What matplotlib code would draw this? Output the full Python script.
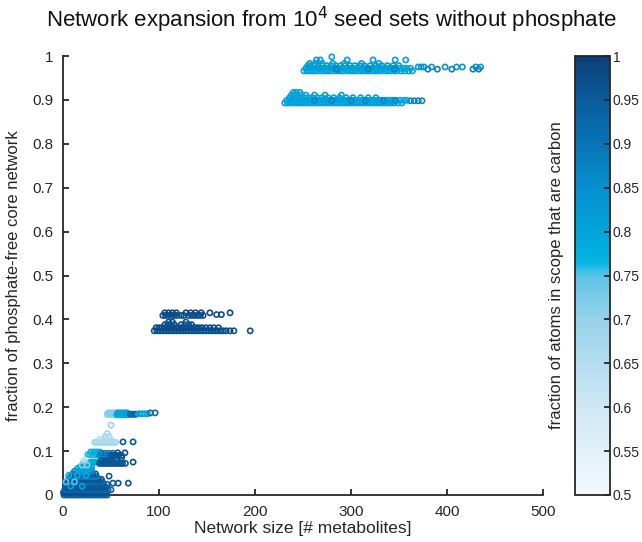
import numpy as np
import matplotlib
matplotlib.use("Agg")
import matplotlib.pyplot as plt
from matplotlib.colors import LinearSegmentedColormap, Normalize
from matplotlib.cm import ScalarMappable

plt.rcParams['font.family'] = ['Liberation Sans', 'DejaVu Sans']

# =============================================================
# Data: rows of (fraction, carbon fraction, sizes)
# =============================================================

# full network, upper strand (~0.975)
top_rows = [
    (0.966, 0.81, [251, 254, 257, 260, 263, 266, 270, 273, 276, 279, 283, 286, 289, 292, 296,
                   299, 302, 305, 309, 312, 315, 318, 322, 325, 328, 331, 335, 338, 341, 345,
                   348, 352, 356, 360, 364]),
    (0.972, 0.80, [253, 256, 259, 262, 266, 269, 272, 275, 278, 282, 285, 288, 291, 295, 298,
                   301, 304, 308, 311, 314, 317, 321, 324, 327, 330, 334, 337, 340, 344, 347,
                   351, 355, 358, 362]),
    (0.978, 0.82, [255, 258, 262, 266, 270, 275, 279, 284, 289, 294, 299, 304, 309, 314, 320,
                   326, 332, 338, 344, 350]),
    (0.983, 0.81, [257, 263, 270, 281, 293, 311, 329]),
    (0.975, 0.84, [370, 373, 376, 384, 398, 410, 416, 430, 435]),
    (0.970, 0.88, [285, 318, 345, 380, 390, 405, 427, 433]),
    (0.991, 0.82, [264, 268, 296, 323, 346, 357]),
    (0.998, 0.80, [280]),
]

# full network, lower strand (~0.90)
mid_rows = [
    (0.893, 0.81, [231, 234, 237, 240, 243, 246, 249, 252, 255, 258, 261, 264, 267, 270, 273,
                   276, 279, 282, 285, 288, 291, 294, 297, 300, 303, 306, 309, 312, 315, 318,
                   321, 324, 327, 330, 333, 336, 339, 342, 345, 349, 353]),
    (0.899, 0.80, [233, 236, 239, 242, 245, 248, 251, 254, 257, 260, 263, 266, 269, 272, 275,
                   278, 281, 284, 287, 290, 293, 296, 299, 302, 305, 308, 311, 314, 317, 320,
                   323, 326, 329, 332, 335, 338, 341, 344, 347, 351, 355, 358]),
    (0.905, 0.81, [236, 239, 242, 245, 248, 252, 256, 260, 265, 270, 276, 282, 288, 295, 302,
                   310, 318, 326]),
    (0.911, 0.81, [238, 241, 244, 248, 253, 262, 273, 290]),
    (0.917, 0.80, [240, 243, 247]),
    (0.898, 0.87, [262, 280, 300, 315, 334, 346, 362, 366, 370, 374]),
]

# ~0.38 / 0.41 strands
core_rows = [
    (0.374, 0.97, [95, 98, 101, 104, 107, 110, 113, 116, 119, 122, 125, 128, 131, 134, 137,
                   140, 143, 146, 149, 152, 155, 158, 161, 164, 167, 170, 174, 178, 195]),
    (0.381, 0.98, [97, 100, 103, 106, 109, 112, 115, 118, 121, 124, 127, 130, 133, 136, 139,
                   142, 145, 149, 153, 157, 162]),
    (0.388, 0.97, [106, 109, 112, 116, 123, 127, 131, 134]),
    (0.394, 0.96, [110, 114, 128]),
    (0.409, 0.97, [104, 107, 110, 113, 116, 119, 123, 126, 131, 134, 137, 140, 143, 146]),
    (0.415, 0.98, [106, 110, 114, 118, 128, 133, 138, 144, 153, 174]),
    (0.411, 0.97, [160, 165]),
]

# ~0.185 strand and the small networks below it
small_rows = [
    (0.183, 0.70, [46, 48, 50, 52, 54]),
    (0.187, 0.72, [47, 49, 51, 53, 55]),
    (0.183, 0.78, [56, 58, 60, 62, 64, 66, 68]),
    (0.187, 0.80, [57, 59, 61, 63, 65, 67]),
    (0.184, 0.93, [70, 72, 74, 76]),
    (0.185, 0.80, [79, 82, 85, 88]),
    (0.187, 0.92, [91, 96]),
    (0.159, 0.70, [50]),
    (0.133, 0.68, [44, 48]),
    (0.140, 0.68, [46]),
    (0.120, 0.68, [33, 35, 37, 39, 41, 43, 45, 47, 49, 51, 53, 55]),
    (0.126, 0.65, [38, 42, 46, 50]),
    (0.121, 0.95, [62.5, 73]),
    (0.092, 0.76, [26, 28, 30, 32, 34, 36]),
    (0.098, 0.78, [29, 32, 35, 38]),
    (0.090, 0.85, [38, 40, 42, 44, 46, 48]),
    (0.095, 0.90, [40, 44, 48, 52]),
    (0.090, 0.96, [50, 52, 54, 56, 58, 61]),
    (0.096, 0.97, [57, 64.5]),
    (0.085, 0.97, [61]),
    (0.074, 0.70, [21, 23, 25, 27]),
    (0.079, 0.62, [22, 24]),
    (0.075, 0.78, [29, 31, 33, 35, 37]),
    (0.072, 0.96, [38, 40, 42, 44, 46, 48, 50, 52, 54, 56, 58, 60, 62, 65]),
    (0.078, 0.96, [40, 43, 46, 49, 52, 55]),
    (0.075, 0.97, [73]),
    (0.064, 0.80, [18, 21, 24, 27, 30]),
    (0.068, 0.72, [20, 25]),
]

# smallest networks near the origin
base_rows = [
    (0.000, 0.95, [1, 3.5, 6, 8.5, 11, 13.5, 16, 18.5, 21, 23.5, 26, 28.5, 31, 33.5, 36, 38.5,
                   41, 43.5, 46]),
    (0.006, 0.97, [0.5, 3, 5.5, 8, 10.5, 13, 15.5, 18, 20.5, 23, 25.5, 28, 30.5, 33, 35.5, 38,
                   40.5, 43, 45.5]),
    (0.012, 0.93, [2, 4.5, 7, 9.5, 12, 14.5, 17, 19.5, 22, 24.5, 27, 29.5, 32, 34.5, 37, 39.5,
                   42, 44.5, 47, 50]),
    (0.018, 0.96, [2.5, 5, 7.5, 10, 12.5, 15, 17.5, 20, 22.5, 25, 27.5, 30, 32.5, 35, 37.5, 40,
                   42.5, 45]),
    (0.024, 0.95, [3, 6, 9, 12, 15, 18, 21, 24, 27, 30, 33, 36, 39, 42, 46]),
    (0.030, 0.92, [5, 8, 11, 14, 17, 20, 23, 26, 29, 32, 35, 38, 41]),
    (0.036, 0.96, [6, 9, 12, 15, 18, 21, 24, 27, 30, 33, 37, 40]),
    (0.042, 0.88, [8, 11, 14, 17, 20, 23, 26, 29, 32, 35]),
    (0.048, 0.95, [10, 13, 16, 19, 22, 25, 28, 31, 34]),
    (0.054, 0.85, [12, 15, 18, 21, 24, 27, 30]),
    (0.060, 0.80, [15, 18, 22, 26, 29]),
    (0.045, 0.78, [6, 15, 24]),
    (0.020, 0.80, [8, 20]),
    (0.030, 0.75, [3, 12]),
    (0.043, 0.96, [48]),
    (0.027, 0.96, [52, 57.5, 68]),
]

# colour scale (carbon fraction -> colour)
cbar_stops = [0.5, 0.6, 0.7, 0.75, 0.765, 0.8, 0.85, 0.9, 0.95, 1.0]
cbar_colors = ['#f3f9fe', '#cfe7f4', '#97d3eb', '#5cc3e6', '#00b6e3', '#04a4db',
               '#0690cf', '#0874b6', '#0a5c9c', '#0c3f78']

x_ticks = [0, 100, 200, 300, 400, 500]
y_ticks = [0, 0.1, 0.2, 0.3, 0.4, 0.5, 0.6, 0.7, 0.8, 0.9, 1]
c_ticks = [0.5, 0.55, 0.6, 0.65, 0.7, 0.75, 0.8, 0.85, 0.9, 0.95, 1]

# =============================================================
# Plot
# =============================================================
span = cbar_stops[-1] - cbar_stops[0]
cmap = LinearSegmentedColormap.from_list(
    'carbon', [((v - cbar_stops[0]) / span, c) for v, c in zip(cbar_stops, cbar_colors)])
norm = Normalize(vmin=0.5, vmax=1.0)

xs, ys, cs = [], [], []
for rows in (base_rows, small_rows, core_rows, mid_rows, top_rows):
    for y, c, xlist in rows:
        xs.extend(xlist)
        ys.extend([y] * len(xlist))
        cs.extend([c] * len(xlist))

axis_col = '#262626'

fig = plt.figure(figsize=(6.42, 5.42), dpi=100)
ax = fig.add_axes([63 / 642, 1 - 495 / 542, 480 / 642, 439 / 542])
ax.scatter(xs, ys, s=14, facecolors='none', edgecolors=cmap(norm(np.array(cs))),
           linewidths=1.2, clip_on=False, zorder=3)

ax.set_xlim(0, 500)
ax.set_ylim(0, 1)
ax.set_xticks(x_ticks)
ax.set_yticks(y_ticks)
ax.set_yticklabels(['%g' % v for v in y_ticks])
for side in ('top', 'right'):
    ax.spines[side].set_visible(False)
for side in ('left', 'bottom'):
    ax.spines[side].set_color(axis_col)
    ax.spines[side].set_linewidth(1.3)
ax.tick_params(direction='in', length=4.5, width=1.3, color=axis_col,
               labelsize=11, labelcolor=axis_col, pad=7)
ax.set_xlabel('Network size [# metabolites]', fontsize=12.5, color=axis_col, labelpad=2)
ax.set_ylabel('fraction of phosphate-free core network', fontsize=12,
              color=axis_col, labelpad=8)

fig.text(331 / 642, 1 - 20 / 542, 'Network expansion from 10$^4$ seed sets without phosphate',
         ha='center', va='center', fontsize=16, color='#111111')

# colour bar
cax = fig.add_axes([575 / 642, 1 - 495 / 542, 35 / 642, 439 / 542])
sm = ScalarMappable(norm=norm, cmap=cmap)
cb = fig.colorbar(sm, cax=cax, ticks=c_ticks)
cb.ax.set_yticklabels(['%g' % v for v in c_ticks])
cb.outline.set_edgecolor(axis_col)
cb.outline.set_linewidth(1.3)
cb.ax.tick_params(direction='in', length=4.5, width=1.3, color=axis_col,
                  labelsize=10, labelcolor=axis_col, pad=2)
cb.ax.yaxis.set_label_position('left')
cb.set_label('fraction of atoms in scope that are carbon', fontsize=12,
             color=axis_col, labelpad=8)

fig.savefig('out.png', dpi=100)
